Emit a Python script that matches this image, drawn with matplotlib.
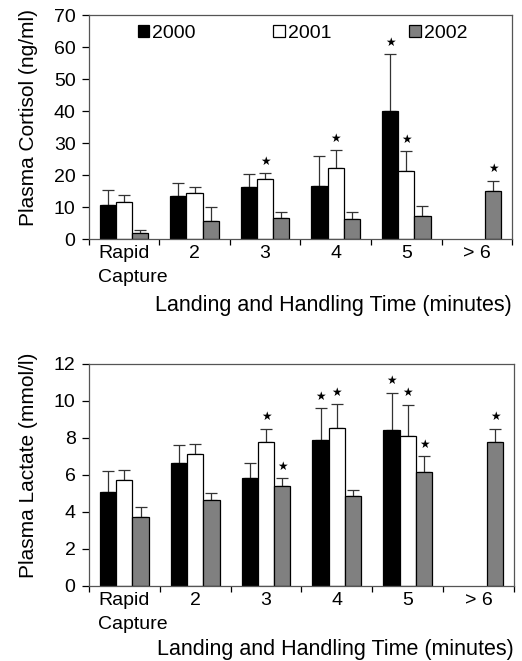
import numpy as np
import matplotlib
matplotlib.use('Agg')
import matplotlib.pyplot as plt
from matplotlib.ticker import FixedLocator

plt.rcParams['font.family'] = ['Liberation Sans', 'DejaVu Sans']

groups = ['Rapid\nCapture', '2', '3', '4', '5', '> 6']
years = ['2000', '2001', '2002']
colors = ['black', 'white', '#808080']

# cortisol (ng/ml): means and upper error bar tops
cort_2000 = [10.6, 13.6, 16.3, 16.8, 40.0, np.nan]
cort_2001 = [11.6, 14.4, 18.9, 22.3, 21.4, np.nan]
cort_2002 = [2.0, 5.8, 6.8, 6.2, 7.2, 15.1]
cort_2000_err = [15.4, 17.6, 20.5, 26.0, 57.8, np.nan]
cort_2001_err = [13.8, 16.3, 20.7, 27.8, 27.5, np.nan]
cort_2002_err = [3.0, 10.0, 8.5, 8.5, 10.3, 18.3]
cort_star_2000 = [0, 0, 0, 0, 1, 0]
cort_star_2001 = [0, 0, 1, 1, 1, 0]
cort_star_2002 = [0, 0, 0, 0, 0, 1]

# lactate (mmol/l)
lac_2000 = [5.1, 6.65, 5.82, 7.9, 8.45, np.nan]
lac_2001 = [5.75, 7.15, 7.78, 8.55, 8.1, np.nan]
lac_2002 = [3.75, 4.63, 5.42, 4.86, 6.17, 7.78]
lac_2000_err = [6.2, 7.6, 6.65, 9.6, 10.45, np.nan]
lac_2001_err = [6.27, 7.65, 8.5, 9.82, 9.78, np.nan]
lac_2002_err = [4.25, 5.03, 5.83, 5.2, 7.0, 8.5]
lac_star_2000 = [0, 0, 0, 1, 1, 0]
lac_star_2001 = [0, 0, 1, 1, 1, 0]
lac_star_2002 = [0, 0, 1, 0, 1, 1]


def draw(ax, means, tops, stars, ymax, ystep, ylabel, xlab_y, legend=False):
    x = np.arange(len(groups))
    w = 0.23
    for k in range(3):
        m = np.array(means[k], dtype=float)
        t = np.array(tops[k], dtype=float)
        pos = x + (k - 1) * w
        ok = ~np.isnan(m)
        ax.bar(pos[ok], m[ok], w, color=colors[k], edgecolor='black',
               linewidth=0.9, label=years[k], zorder=2)
        ax.errorbar(pos[ok], m[ok], yerr=[np.zeros(ok.sum()), t[ok] - m[ok]],
                    fmt='none', ecolor='#333333', elinewidth=0.9, capsize=4,
                    capthick=0.9, zorder=1)
        for i in range(len(groups)):
            if stars[k][i]:
                ax.annotate('\u2605', (pos[i], t[i]), textcoords='offset points',
                            xytext=(0, 4), ha='center', va='bottom',
                            fontsize=8.5, family='DejaVu Sans')
    ax.set_xlim(-0.5, len(groups) - 0.5)
    ax.set_ylim(0, ymax)
    ax.set_yticks(np.arange(0, ymax + 0.1, ystep))
    # first label is left-aligned just inside the axis
    tick_pos = [-0.37] + list(x[1:])
    ax.set_xticks(tick_pos)
    ax.set_xticklabels(groups, fontsize=14, multialignment='left',
                       linespacing=1.55)
    ax.get_xticklabels()[0].set_horizontalalignment('left')
    ax.tick_params(axis='x', which='major', length=0, pad=4)
    ax.xaxis.set_minor_locator(FixedLocator(np.arange(-0.5, len(groups), 1)))
    ax.tick_params(axis='x', which='minor', length=4, direction='out', width=0.9)
    ax.tick_params(axis='y', labelsize=14, length=5, width=0.9, pad=4.5)
    for s in ax.spines.values():
        s.set_color('#555555')
        s.set_linewidth(0.9)
    ax.set_ylabel(ylabel, fontsize=15)
    ax.yaxis.set_label_coords(-0.12, 0.545)
    ax.set_xlabel('Landing and Handling Time (minutes)', fontsize=15.5,
                  ha='right')
    ax.xaxis.set_label_coords(1.0, xlab_y)
    if legend:
        ax.legend(loc='upper center', ncol=3, frameon=False, fontsize=14,
                  handlelength=0.6, handleheight=0.6, handletextpad=0.15,
                  columnspacing=4.0, bbox_to_anchor=(0.505, 1.035))


fig = plt.figure(figsize=(5.22, 6.61), dpi=100)
ax1 = fig.add_axes([0.170, 0.638, 0.811, 0.339])
ax2 = fig.add_axes([0.170, 0.1135, 0.815, 0.336])

draw(ax1, [cort_2000, cort_2001, cort_2002],
     [cort_2000_err, cort_2001_err, cort_2002_err],
     [cort_star_2000, cort_star_2001, cort_star_2002],
     70, 10, 'Plasma Cortisol (ng/ml)', -0.25, legend=True)
draw(ax2, [lac_2000, lac_2001, lac_2002],
     [lac_2000_err, lac_2001_err, lac_2002_err],
     [lac_star_2000, lac_star_2001, lac_star_2002],
     12, 2, 'Plasma Lactate (mmol/l)', -0.24)

fig.savefig('out.png', dpi=100)
